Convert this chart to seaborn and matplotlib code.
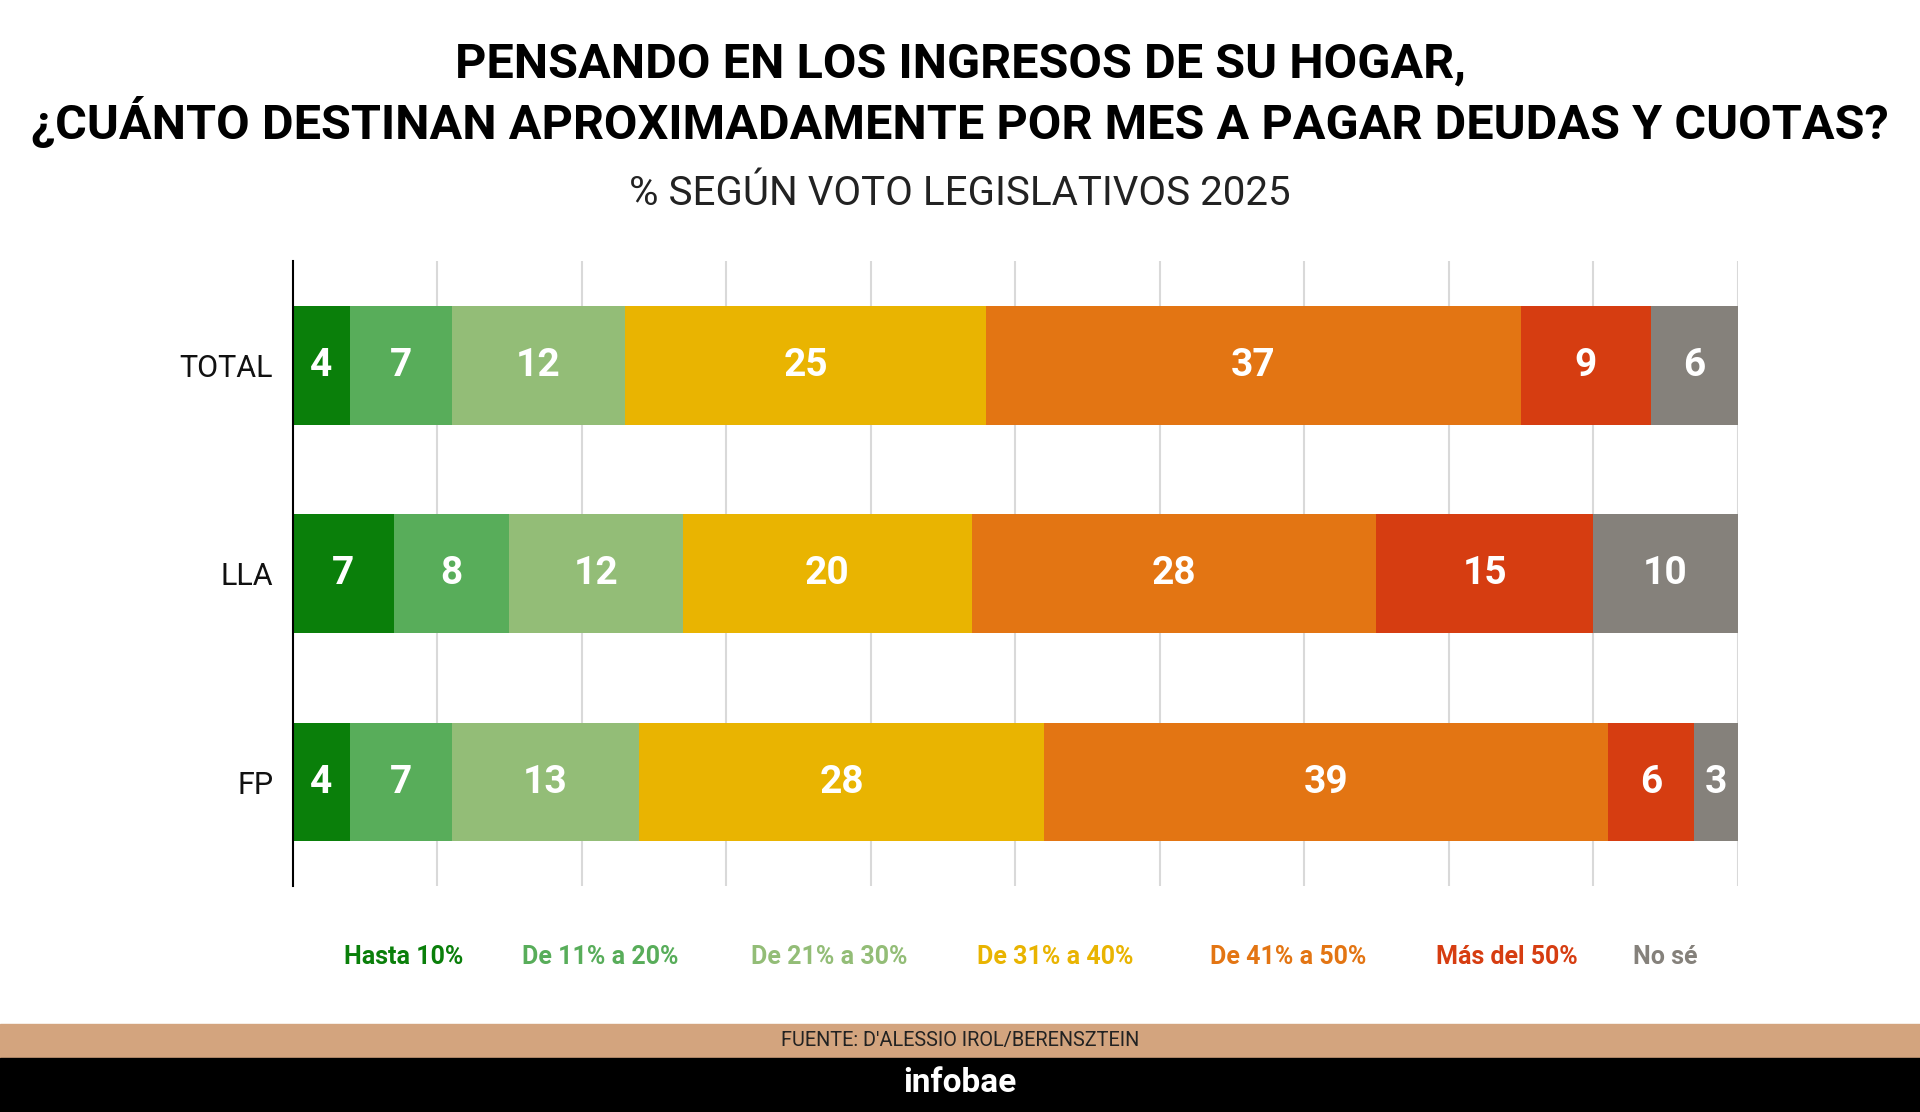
import matplotlib
matplotlib.use("Agg")
import matplotlib.pyplot as plt
import seaborn as sns
import pandas as pd
import numpy as np
from matplotlib.patches import Rectangle

groups = ["TOTAL", "LLA", "FP"]
categories = ["Hasta 10%", "De 11% a 20%", "De 21% a 30%", "De 31% a 40%", "De 41% a 50%", "Más del 50%", "No sé"]
total = [4, 7, 12, 25, 37, 9, 6]
lla = [7, 8, 12, 20, 28, 15, 10]
fp = [4, 7, 13, 28, 39, 6, 3]
colors = ["#0a7f0a", "#58ad5a", "#93bd77", "#e9b401", "#e37513", "#d63d11", "#85817b"]

sns.set_theme(style="white")
plt.rcParams['font.family'] = ['Roboto', 'DejaVu Sans']

values = np.array([total, lla, fp], dtype=float)
fig = plt.figure(figsize=(19.2, 11.12), dpi=100)
ax = fig.add_axes([0.1524, 0.2031, 0.905 - 0.1524, 0.7649 - 0.2031])

cum = values.cumsum(axis=1)
for i in reversed(range(len(categories))):
    df = pd.DataFrame({"grupo": groups, "valor": cum[:, i]})
    sns.barplot(data=df, x="valor", y="grupo", orient="h", color=colors[i],
                saturation=1, width=0.57, ax=ax, linewidth=0)

for g in range(len(groups)):
    left = 0
    for i, v in enumerate(values[g]):
        ax.text(left + v / 2, g, f"{int(v)}", ha="center", va="center",
                color="white", fontsize=28, fontweight="bold")
        left += v

ax.set_xlim(0, 100)
ax.set_ylim(2.5, -0.5)
ax.set_xticks(np.arange(10, 101, 10))
ax.set_xticklabels([])
ax.xaxis.grid(True, color="#d9d9d9", linewidth=1.5)
ax.set_axisbelow(True)
ax.set_xlabel("")
ax.set_ylabel("")
for s in ["top", "right", "bottom"]:
    ax.spines[s].set_visible(False)
ax.spines["left"].set_color("black")
ax.spines["left"].set_linewidth(1.5)
ax.tick_params(axis="y", length=0, labelsize=22, pad=14)
for t in ax.get_yticklabels():
    t.set_color("#111111")

fig.text(0.5, 0.942, "PENSANDO EN LOS INGRESOS DE SU HOGAR,", ha="center", va="center",
         fontsize=35, fontweight="bold", color="black")
fig.text(0.5, 0.889, "¿CUÁNTO DESTINAN APROXIMADAMENTE POR MES A PAGAR DEUDAS Y CUOTAS?",
         ha="center", va="center", fontsize=35, fontweight="bold", color="black")
fig.text(0.5, 0.826, "% SEGÚN VOTO LEGISLATIVOS 2025", ha="center", va="center",
         fontsize=29, fontweight="normal", color="#222222")

leg_x = [330, 490, 677, 862, 1052, 1231, 1360]
for x, c, col in zip(leg_x, categories, colors):
    fig.text(x / 1568, 1 - 780 / 906, c, ha="center", va="center",
             fontsize=18, fontweight="bold", color=col)

fig.patches.append(Rectangle((0, 0.0486), 1, 0.0309, transform=fig.transFigure,
                             color="#d3a47e", zorder=0))
fig.patches.append(Rectangle((0, 0), 1, 0.0486, transform=fig.transFigure,
                             color="black", zorder=0))
fig.text(0.5, 0.064, "FUENTE: D'ALESSIO IROL/BERENSZTEIN", ha="center", va="center",
         fontsize=14.3, color="#222222")
fig.text(0.5, 0.026, "infobae", ha="center", va="center", fontsize=24,
         fontweight="bold", color="white")

fig.savefig("out.png", dpi=100, facecolor="white")
